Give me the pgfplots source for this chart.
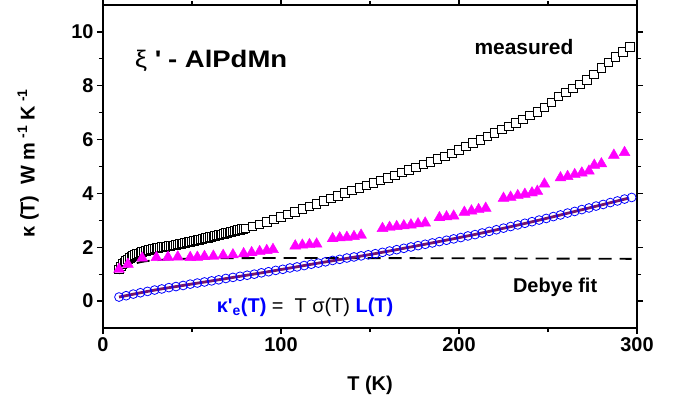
\documentclass[border=0pt]{standalone}
\usepackage{fontspec}
\setmainfont{Liberation Sans}
\newfontfamily\widefont[FakeStretch=1.15]{Liberation Sans}
\usepackage{pgfplots}
\pgfplotsset{compat=1.18}
\definecolor{fitpurple}{RGB}{118,22,108}
\definecolor{tri}{RGB}{255,0,255}

% measured kappa(T)
\pgfplotstableread{
T k
9 1.18
10 1.28
11 1.37
12 1.44
13 1.50
14 1.55
15 1.60
16 1.64
17 1.68
18 1.71
19 1.74
20 1.77
21 1.80
22 1.82
23 1.84
24 1.86
25 1.88
26 1.90
27 1.92
28 1.94
29 1.95
30 1.97
31 1.98
32 1.99
33 2.00
34 2.01
35 2.02
36 2.03
37 2.04
38 2.05
39 2.06
40 2.07
41 2.09
42 2.10
43 2.11
44 2.13
45 2.14
46 2.16
47 2.17
48 2.19
49 2.20
50 2.22
51 2.23
52 2.25
53 2.26
54 2.28
55 2.29
56 2.31
57 2.32
58 2.34
59 2.35
60 2.37
61 2.38
62 2.40
63 2.42
64 2.43
65 2.45
66 2.47
67 2.48
68 2.50
69 2.52
70 2.53
71 2.55
72 2.57
73 2.58
74 2.60
75 2.62
76 2.63
77 2.65
78 2.67
79 2.68
80 2.70
84 2.77
88 2.84
92 2.93
96 3.03
100 3.12
104 3.22
108 3.31
112 3.41
116 3.51
120 3.61
124 3.71
128 3.81
132 3.91
136 4.01
140 4.11
144 4.20
148 4.29
152 4.38
156 4.48
160 4.57
164 4.67
168 4.77
172 4.87
176 4.97
180 5.07
184 5.17
188 5.27
192 5.37
196 5.49
200 5.61
204 5.74
208 5.87
212 5.99
216 6.12
220 6.25
224 6.37
228 6.49
232 6.62
236 6.75
240 6.89
244 7.03
248 7.19
252 7.38
256 7.60
260 7.75
264 7.90
268 8.05
272 8.22
276 8.42
280 8.65
284 8.87
288 9.06
292 9.25
296 9.43
}\measured

% kappa minus electronic part
\pgfplotstableread{
T k
9 1.18
14 1.37
22 1.60
30 1.62
36.5 1.63
42 1.64
49 1.62
53 1.63
57 1.66
62 1.67
67.5 1.70
73 1.72
79 1.76
83.5 1.80
88 1.84
92 1.88
95.5 1.92
108 2.05
112 2.08
116 2.10
120 2.12
129 2.32
133 2.35
137 2.37
141 2.40
145 2.45
157 2.70
161 2.74
165 2.77
169 2.80
173 2.83
177 2.87
181 2.90
189 3.10
193 3.13
197 3.16
203 3.30
207 3.35
211 3.40
215 3.45
225 3.82
229 3.86
233 3.92
237 3.97
241 4.02
244 4.08
248 4.35
257 4.58
261 4.63
265 4.70
269 4.76
273 4.83
276 5.05
280 5.10
287 5.42
293 5.52
}\phonon

% electronic part, open circles
\pgfplotstableread{
T k
9 0.15
13 0.20
17 0.26
21 0.31
25 0.36
29 0.41
33 0.45
37 0.50
41 0.54
45 0.58
49 0.63
53 0.67
57 0.71
61 0.75
65 0.79
69 0.84
73 0.88
77 0.92
81 0.96
85 1.00
89 1.05
93 1.09
97 1.14
101 1.18
105 1.23
109 1.27
113 1.32
117 1.37
121 1.41
125 1.46
129 1.51
133 1.55
137 1.60
141 1.64
145 1.68
149 1.72
153 1.76
157 1.81
161 1.86
165 1.91
169 1.96
173 2.01
177 2.06
181 2.11
185 2.16
189 2.21
193 2.26
197 2.31
201 2.36
205 2.42
209 2.47
213 2.53
217 2.59
221 2.65
225 2.71
229 2.77
233 2.83
237 2.89
241 2.95
245 3.01
249 3.07
253 3.14
257 3.20
261 3.27
265 3.33
269 3.40
273 3.46
277 3.53
281 3.59
285 3.66
289 3.72
293 3.79
297 3.85
}\electron

\begin{document}
\begin{tikzpicture}
\begin{axis}[
  scale only axis,
  width=534bp, height=323bp,
  xmin=0, xmax=300, ymin=-1, ymax=11,
  xtick={0,100,200,300}, minor x tick num=1,
  ytick={0,2,4,6,8,10}, minor y tick num=1,
  tick align=outside,
  major tick length=6bp, minor tick length=4bp,
  every tick/.style={black, line width=1.2pt},
  axis line style={line width=1.8pt},
  /pgf/number format/assume math mode=true,
  ticklabel style={font=\bfseries\fontsize{20}{22}\selectfont},
  xlabel={T (K)},
  ylabel={κ (T)\ \ W m\textsuperscript{ -1} K\textsuperscript{ -1}},
  label style={font=\bfseries\fontsize{20}{22}\selectfont},
  xlabel style={at={(axis description cs:0.5,-0.1765)}, anchor=center},
  ylabel style={at={(axis description cs:-0.1404,0.51)}, anchor=center},
  clip=false,
]
% Debye fit
\addplot[black, line width=1.9pt, dash pattern=on 13bp off 8bp, smooth] coordinates {
  (9,1.02) (12,1.20) (15,1.32) (20,1.43) (25,1.49) (30,1.52) (40,1.56)
  (60,1.59) (100,1.60) (200,1.59) (297,1.57)
};
\addplot[only marks, mark=square*,
  mark options={scale=1, mark size=4.3bp, fill=white, draw=black, line width=1pt}]
  table[x=T,y=k] {\measured};
\addplot[only marks, mark=triangle*,
  mark options={scale=1, mark size=6.3bp, fill=tri, draw=tri}]
  table[x=T,y=k] {\phonon};
\addplot[only marks, mark=o,
  mark options={scale=1, mark size=4.4bp, draw=blue, line width=0.8pt}]
  table[x=T,y=k] {\electron};
% fit line through the electronic part
\addplot[fitpurple, line width=2.8pt, smooth] coordinates {
  (9,0.15) (30,0.42) (60,0.74) (90,1.06) (120,1.40) (150,1.73)
  (180,2.10) (210,2.49) (240,2.93) (270,3.41) (295,3.82)
};

\node[font=\fontsize{24}{26}\selectfont] at (axis cs:60.7,8.92)
  {\widefont ξ \bfseries\textquotesingle\ - AlPdMn};
\node[font=\bfseries\fontsize{21}{23}\selectfont] at (axis cs:236.5,9.44) {measured};
\node[font=\bfseries\fontsize{20}{22}\selectfont] at (axis cs:254,0.52) {Debye fit};
\node[font=\fontsize{20}{22}\selectfont] at (axis cs:113.5,-0.22)
  {{\color{blue}\bfseries κ\textquotesingle\textsubscript{e}(T)} =\ \ T σ(T) {\color{blue}\bfseries L(T)}};
\end{axis}
\pgfresetboundingbox
\useasboundingbox (-103bp,-75bp) rectangle (576bp,328bp);
\end{tikzpicture}
\end{document}
